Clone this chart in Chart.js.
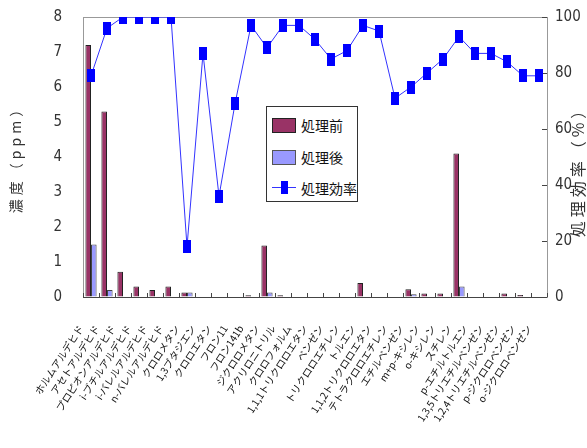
<!DOCTYPE html>
<html>
<head>
<meta charset="utf-8">
<script src="https://cdn.jsdelivr.net/npm/chart.js@4.4.1/dist/chart.umd.min.js"></script>
<style>
  html, body { margin: 0; padding: 0; background: #fff; }
  #wrap { position: relative; width: 587px; height: 448px; }
  #chart { display: block; }
  #legend {
    position: absolute; left: 266px; top: 106px; width: 90px; height: 94px;
    border: 1px solid #333; background: #fff;
    font-family: "Noto Sans CJK JP", sans-serif; font-size: 14px; color: #111;
  }
  .item { position: absolute; left: 5px; height: 18px; line-height: 18px; }
  .item span { position: absolute; left: 29px; top: 0; white-space: nowrap; }
  .sw { position: absolute; left: 0; top: 2px; width: 22px; height: 13px; border: 1px solid #222; }
  .ln { position: absolute; left: 0; top: 8px; width: 24px; height: 1px; background: #3333ff; }
  .mk { position: absolute; left: 9px; top: 2px; width: 7px; height: 13px; background: #0000ff; }
</style>
</head>
<body>
<div id="wrap">
  <canvas id="chart" width="587" height="448"></canvas>
  <div id="legend">
    <div class="item" style="top:9px"><div class="sw" style="background:#993366"></div><span>処理前</span></div>
    <div class="item" style="top:41px"><div class="sw" style="background:#9999ff;border-color:#555"></div><span>処理後</span></div>
    <div class="item" style="top:72px"><div class="ln"></div><div class="mk"></div><span>処理効率</span></div>
  </div>
</div>
<script>
// 物質名
const substances = [
  'ホルムアルデヒド', 'アセトアルデヒド', 'プロピオンアルデヒド', 'i-ブチルアルデヒド',
  'i-バレルアルデヒド', 'n-バレルアルデヒド', 'クロロメタン', '1,3ブタジエン', 'クロロエタン',
  'フロン11', 'フロン141b', 'ジクロロメタン', 'アクリロニトリル', 'クロロフォルム',
  '1,1,1トリクロロエタン', 'ベンゼン', 'トリクロロエチレン', 'トルエン', '1,1,2トリクロロエタン',
  'テトラクロロエチレン', 'エチルベンゼン', 'm+p-キシレン', 'o-キシレン', 'スチレン',
  'p-エチルトルエン', '1,3,5トリエチルベンゼン', '1,2,4トリエチルベンゼン', 'p-ジクロロベンゼン', 'o-ジクロロベンゼン'
];

// 濃度 (ppm)
const before = [7.2, 5.3, 0.72, 0.3, 0.2, 0.3, 0.13, 0, 0, 0, 0.05, 1.47, 0.05, 0,
  0, 0, 0, 0.4, 0, 0, 0.22, 0.1, 0.1, 4.1, 0, 0, 0.1, 0.06, 0];
const after = [1.5, 0.2, 0, 0, 0, 0, 0.13, 0, 0, 0, 0, 0.13, 0, 0,
  0, 0, 0, 0, 0, 0, 0.08, 0, 0, 0.3, 0, 0, 0, 0, 0];

// 処理効率 (%)
const efficiency = [79, 96, 100, 100, 100, 100, 18, 87, 36, 69, 97, 89, 97, 97,
  92, 85, 88, 97, 95, 71, 75, 80, 85, 93, 87, 87, 84, 79, 79];

const concTicks = [0, 8, 1];
const effTicks = [0, 100, 20];

// 縦長の四角マーカー
const marker = document.createElement('canvas');
marker.width = 8; marker.height = 13;
const mctx = marker.getContext('2d');
mctx.fillStyle = '#0000ff';
mctx.fillRect(0, 0, 8, 13);

const numFont = { family: '"Liberation Sans Narrow", "DejaVu Sans Condensed", sans-serif', size: 15 };
const hidden = { display: true, drawOnChartArea: false, tickColor: 'rgba(0,0,0,0)' };

const frame = {
  id: 'frame',
  beforeDatasetsDraw(chart) {
    const { ctx, chartArea: a, scales } = chart;
    ctx.save();
    ctx.lineWidth = 1;
    ctx.strokeStyle = '#999';
    ctx.strokeRect(a.left + 0.5, a.top + 0.5, a.right - a.left, a.bottom - a.top);
    ctx.strokeStyle = '#444';
    ctx.beginPath();
    ctx.moveTo(a.left, a.bottom + 0.5); ctx.lineTo(a.right, a.bottom + 0.5);
    // 区切り目盛り
    const x = scales.x;
    const step = x.getPixelForValue(1) - x.getPixelForValue(0);
    for (let i = 0; i <= substances.length; i++) {
      const px = Math.round(x.getPixelForValue(i) - step / 2) + 0.5;
      ctx.moveTo(px, a.bottom); ctx.lineTo(px, a.bottom - 4);
    }
    const y1 = scales.y1;
    y1.ticks.forEach(t => {
      const py = Math.round(y1.getPixelForValue(t.value)) + 0.5;
      ctx.moveTo(a.right, py); ctx.lineTo(a.right - 5, py);
    });
    ctx.stroke();
    ctx.restore();
  },
  afterDraw(chart) {
    const { ctx, chartArea: a } = chart;
    ctx.save();
    ctx.fillStyle = '#333';
    ctx.textAlign = 'center';
    ctx.textBaseline = 'middle';
    ctx.font = '14px "Noto Sans CJK JP"';
    ctx.letterSpacing = '4px';
    ctx.translate(16, 156);
    ctx.rotate(-Math.PI / 2);
    ctx.fillText('濃度（ppm）', 0, 0);
    ctx.restore();
    ctx.save();
    ctx.fillStyle = '#333';
    ctx.textAlign = 'center';
    ctx.textBaseline = 'middle';
    ctx.font = '16px "Noto Sans CJK JP"';
    ctx.letterSpacing = '4px';
    ctx.translate(a.right + 31, 168);
    ctx.rotate(-Math.PI / 2);
    ctx.fillText('処理効率（%）', 0, 0);
    ctx.restore();
  }
};

new Chart(document.getElementById('chart'), {
  type: 'bar',
  data: {
    labels: substances,
    datasets: [{
      type: 'line',
      label: '処理効率',
      data: efficiency,
      yAxisID: 'y1',
      borderColor: '#3333ff',
      borderWidth: 1,
      pointStyle: marker,
      tension: 0,
      order: 0
    }, {
      label: '処理前',
      data: before,
      yAxisID: 'y',
      backgroundColor: '#993366',
      borderColor: '#222',
      borderWidth: 1,
      categoryPercentage: 0.7,
      barPercentage: 1.0,
      order: 1
    }, {
      label: '処理後',
      data: after,
      yAxisID: 'y',
      backgroundColor: '#9999ff',
      borderColor: '#444',
      borderWidth: 1,
      categoryPercentage: 0.7,
      barPercentage: 1.0,
      order: 1
    }]
  },
  options: {
    responsive: false,
    animation: false,
    layout: { padding: { top: 17, left: 0, right: 0, bottom: 0 } },
    plugins: { legend: { display: false }, tooltip: { enabled: false } },
    scales: {
      x: {
        grid: { ...hidden, tickLength: 24 },
        border: { display: false },
        ticks: {
          autoSkip: false, minRotation: 57, maxRotation: 57, padding: 2, labelOffset: -10,
          color: '#111', font: { family: '"Noto Sans CJK JP", sans-serif', size: 10 }
        },
        afterFit: s => { s.height = 151; }
      },
      y: {
        position: 'left',
        min: concTicks[0], max: concTicks[1],
        grid: { ...hidden, tickLength: 15 },
        border: { display: false },
        ticks: { stepSize: concTicks[2], padding: 6, color: '#333', font: numFont },
        afterFit: s => { s.width = 83; }
      },
      y1: {
        position: 'right',
        min: effTicks[0], max: effTicks[1],
        grid: { ...hidden, tickLength: 4 },
        border: { display: false },
        ticks: { stepSize: effTicks[2], padding: 4, color: '#333', font: numFont },
        afterFit: s => { s.width = 40; }
      }
    }
  },
  plugins: [frame]
});
</script>
</body>
</html>
